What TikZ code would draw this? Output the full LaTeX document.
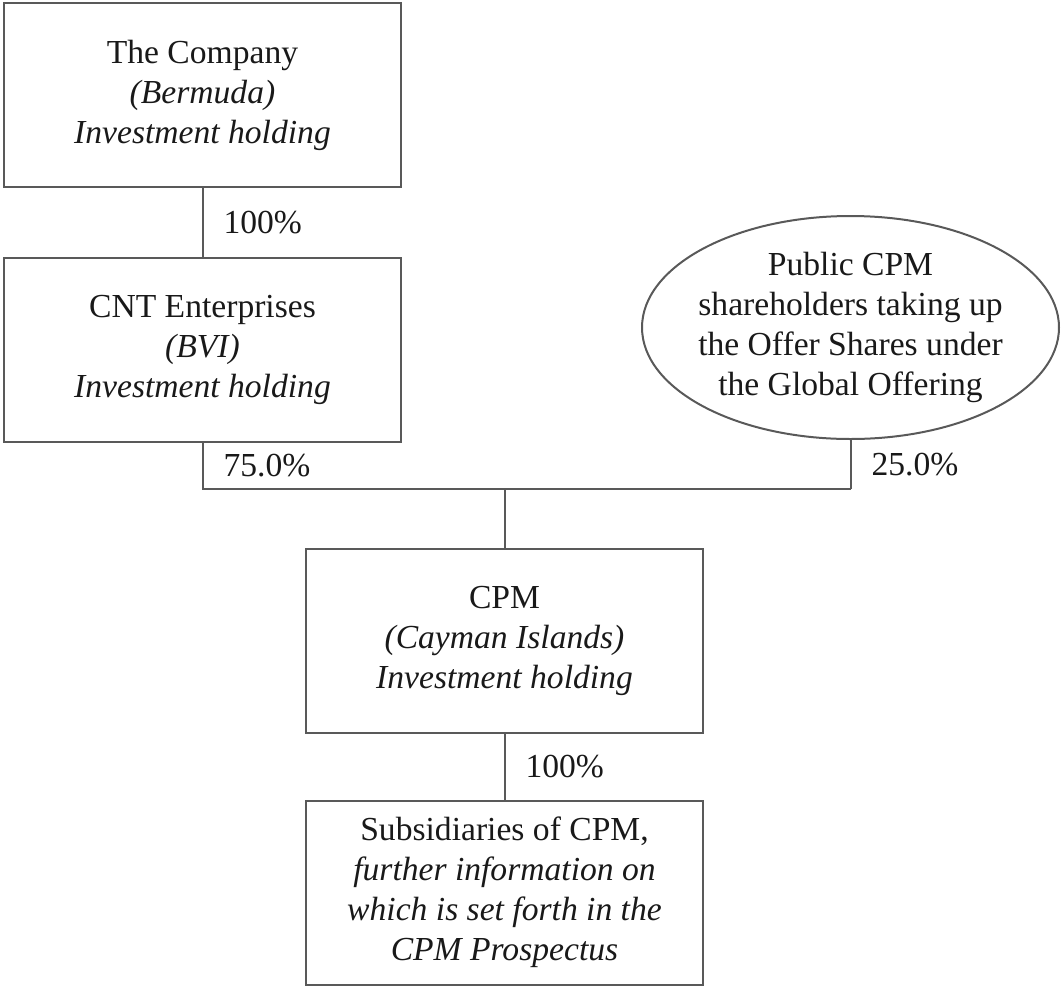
\documentclass[tikz,border=0pt]{standalone}
\usepackage{fontspec}
\setmainfont{Liberation Serif}
\usetikzlibrary{shapes.geometric}
\begin{document}
\begin{tikzpicture}[x=0.5pt,y=-0.5pt,
  every node/.style={font=\fontsize{16.8}{20}\selectfont, text=black!90},
  entity/.style={draw=black!65, line width=1pt, minimum width=198.5pt, minimum height=92pt, align=center, inner sep=0pt},
  owners/.style={draw=black!65, line width=1pt, ellipse, minimum width=208.5pt, minimum height=111.5pt, align=center, inner xsep=-3pt, inner ysep=0pt},
  pct/.style={anchor=west, xshift=10pt, inner sep=0pt},
  link/.style={draw=black!65, line width=1pt}]
\useasboundingbox (0,0) rectangle (1061,986);
\node[entity] (company) at (202.5,95) {The Company\\\textit{(Bermuda)}\\\textit{Investment holding}};
\node[entity] (cnt) at (202.5,350) {CNT Enterprises\\\textit{(BVI)}\\\textit{Investment holding}};
\node[owners] (pub) at (850.5,327.5) {Public CPM\\shareholders taking up\\the Offer Shares under\\the Global Offering};
\node[entity] (cpm) at (504.5,640.5) {CPM\\\textit{(Cayman Islands)}\\\textit{Investment holding}};
\node[entity] (subs) at (504.5,892.5) {Subsidiaries of CPM,\\\textit{further information on}\\\textit{which is set forth in the}\\\textit{CPM Prospectus}};
\coordinate (split) at (504.5,489);

\draw[link] (company) -- node[pct] {100\%} (cnt);
\draw[link] (cnt.south) -- node[pct] {75.0\%} (cnt.south |- split) -- (pub.south |- split);
\draw[link] (pub.south) -- node[pct] {25.0\%} (pub.south |- split);
\draw[link] (split) -- (cpm.north);
\draw[link] (cpm) -- node[pct] {100\%} (subs);
\end{tikzpicture}
\end{document}
